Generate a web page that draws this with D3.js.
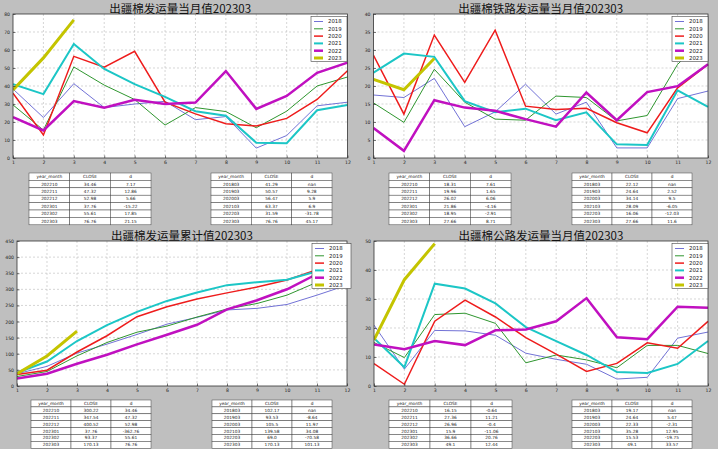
<!DOCTYPE html>
<html><head><meta charset="utf-8">
<script src="https://cdn.jsdelivr.net/npm/d3@7"></script>
<style>
html,body{margin:0;padding:0;background:#bfbfbf;}
svg{display:block;}
</style></head>
<body>
<script>
// ---------- data ----------
const months = [1,2,3,4,5,6,7,8,9,10,11,12];
const years = ["2018","2019","2020","2021","2022","2023"];
const yearColors = ["#7272d6","#2f962f","#ee1c1c","#1cc6c6","#c010c0","#c4c400"];
const yearWidths = [1,1,1.5,2,2.5,3];

// 出疆棉发运量当月值
const monthlyTotal = [
  [38.3,22.5,41.29,28,30,31.5,21.3,23,5.5,12.5,29,31],
  [29.5,15.5,50.57,40.5,32.5,18.3,28,25.8,16.8,26,40,45],
  [36,12.8,56.47,50.5,59.3,31,24.5,19,17.8,22,32.5,48.5],
  [41,35.5,63.37,49.5,41,34,26,23.5,8.5,8.2,26.5,29.5],
  [22.7,15.3,31.59,28,32.3,30,30.8,48.3,27.3,34.46,47.32,52.98],
  [37.76,55.61,76.76]
];
// 出疆棉铁路发运量当月值
const monthlyRail = [
  [17.5,16.8,22.12,8.7,12.8,20.5,12.2,15.5,2.8,2.8,16.5,18.6],
  [15.3,9.9,24.64,15.5,10.8,10.5,17.2,16.8,10.3,11.8,26,34.2],
  [28.5,12.2,34.14,21,35.5,14.4,13.5,13.8,9.8,7,19.5,26],
  [23.7,29,28.09,15.8,12.7,13.7,10.5,12.7,3.8,3.6,18.8,14.2],
  [8.3,2,16.06,14,13.1,10.8,8.7,18.2,10.5,18.31,19.96,26.02],
  [21.86,18.95,27.66]
];
// 出疆棉发运量累计值
const cumulativeTotal = [
  [38,61,102.17,130,160,192,213,236,241,253,282,313],
  [29.5,45,93.53,135,167,186,214,239,256,282,322,367],
  [36,49,105.5,156,215,246,270,289,307,329,361,410],
  [41,76,139.58,189,230,264,290,313,322,330,356,386],
  [23,38,69.0,97,129,159,190,238,266,300.22,347.54,400.52],
  [37.76,93.37,170.13]
];
// 出疆棉公路发运量当月值
const monthlyRoad = [
  [21,5.8,19.17,19,17.5,11.3,9.2,7.5,2.4,3,16.5,18.6],
  [15,9.8,24.64,25.1,21.6,8,10.7,9,6.3,14,14,11.2],
  [7.7,0.6,22.33,29.6,23.8,16.7,11,5,7.8,14.9,13,22.3],
  [16.5,6.5,35.28,33.6,28.5,20.3,15.5,10.7,4.8,4.5,7.6,15.5],
  [14.3,12.7,15.53,14.1,19.2,19.5,22.3,30.3,16.8,16.15,27.36,26.96],
  [15.9,36.66,49.1]
];

const tableHeader = ["year_month","CLOSE","d"];
const recentMonths = ["202210","202211","202212","202301","202302","202303"];
const marchMonths = ["201803","201903","202003","202103","202203","202303"];

const tlRecentClose = ["34.46","47.32","52.98","37.76","55.61","76.76"];
const tlRecentD = ["7.17","12.86","5.66","-15.22","17.85","21.15"];
const tlMarchClose = ["41.29","50.57","56.47","63.37","31.59","76.76"];
const tlMarchD = ["nan","9.28","5.9","6.9","-31.78","45.17"];

const trRecentClose = ["18.31","19.96","26.02","21.86","18.95","27.66"];
const trRecentD = ["7.61","1.65","6.06","-4.16","-2.91","8.71"];
const trMarchClose = ["22.12","24.64","34.14","28.09","16.06","27.66"];
const trMarchD = ["nan","2.52","9.5","-6.05","-12.03","11.6"];

const blRecentClose = ["300.22","347.54","400.52","37.76","93.37","170.13"];
const blRecentD = ["34.46","47.32","52.98","-362.76","55.61","76.76"];
const blMarchClose = ["102.17","93.53","105.5","139.58","69.0","170.13"];
const blMarchD = ["nan","-8.64","11.97","34.08","-70.58","101.13"];

const brRecentClose = ["16.15","27.36","26.96","15.9","36.66","49.1"];
const brRecentD = ["-0.64","11.21","-0.4","-11.06","20.76","12.44"];
const brMarchClose = ["19.17","24.64","22.33","35.28","15.53","49.1"];
const brMarchD = ["nan","5.47","-2.31","12.95","-19.75","33.57"];

// ---------- drawing ----------
const W = 718, H = 449;
const svg = d3.select("body").append("svg").attr("width", W).attr("height", H);
svg.append("rect").attr("width", W).attr("height", H).attr("fill", "#bfbfbf");

function drawPanel(p) {
  const g = svg.append("g");
  const x = d3.scaleLinear().domain([1, 12]).range([p.left, p.right]);
  const y = d3.scaleLinear().domain([0, p.ymax]).range([p.bottom, p.top]);
  const yTicks = d3.range(0, p.ymax + 0.001, p.ystep);

  g.append("rect").attr("x", p.left).attr("y", p.top)
    .attr("width", p.right - p.left).attr("height", p.bottom - p.top)
    .attr("fill", "#fff");

  // grid
  g.append("g").selectAll("line").data(months.slice(1, 11)).join("line")
    .attr("x1", d => x(d)).attr("x2", d => x(d))
    .attr("y1", p.top).attr("y2", p.bottom)
    .attr("stroke", "#c4c4c4").attr("stroke-width", 0.7).attr("stroke-dasharray", "2,2");
  g.append("g").selectAll("line").data(yTicks.slice(1, -1)).join("line")
    .attr("x1", p.left).attr("x2", p.right)
    .attr("y1", d => y(d)).attr("y2", d => y(d))
    .attr("stroke", "#c4c4c4").attr("stroke-width", 0.7).attr("stroke-dasharray", "2,2");

  // lines
  const line = d3.line().x((d, i) => x(months[i])).y(d => y(d));
  const clipId = "clip" + p.id;
  svg.append("clipPath").attr("id", clipId).append("rect")
    .attr("x", p.left).attr("y", p.top - 2).attr("width", p.right - p.left + 3).attr("height", p.bottom - p.top + 2);
  const lg = g.append("g").attr("clip-path", `url(#${clipId})`);
  p.series.forEach((s, i) => {
    lg.append("path").attr("d", line(s)).attr("fill", "none")
      .attr("stroke", yearColors[i]).attr("stroke-width", yearWidths[i])
      .attr("stroke-linejoin", "miter");
  });

  // frame
  g.append("rect").attr("x", p.left).attr("y", p.top)
    .attr("width", p.right - p.left).attr("height", p.bottom - p.top)
    .attr("fill", "none").attr("stroke", "#333").attr("stroke-width", 0.8);

  // axes
  const xa = g.append("g").attr("transform", `translate(0,${p.bottom})`)
    .call(d3.axisBottom(x).tickValues(months).tickFormat(d3.format("d")).tickSize(-2.5).tickPadding(3));
  const ya = g.append("g").attr("transform", `translate(${p.left},0)`)
    .call(d3.axisLeft(y).tickValues(yTicks).tickFormat(d3.format("d")).tickSize(-2.5).tickPadding(3));
  [xa, ya].forEach(a => {
    a.select(".domain").remove();
    a.selectAll(".tick line").attr("stroke", "#222").attr("stroke-width", 0.6);
    a.selectAll("text").attr("font-family", "DejaVu Sans").attr("font-size", 4.6).attr("fill", "#222");
  });

  // title
  g.append("text").attr("x", (p.left + p.right) / 2).attr("y", p.top - 1.5)
    .attr("text-anchor", "middle").attr("font-family", "Noto Sans CJK SC, DejaVu Sans")
    .attr("font-size", 11.5).attr("fill", "#111").text(p.title);

  // legend
  const L = p.legend;
  g.append("rect").attr("x", L.x).attr("y", L.y).attr("width", L.w).attr("height", L.h)
    .attr("fill", "#fff").attr("stroke", "#444").attr("stroke-width", 0.6);
  years.forEach((yr, i) => {
    const cy = L.y + 5 + i * 7.3;
    g.append("line").attr("x1", L.x + 3).attr("x2", L.x + 12).attr("y1", cy).attr("y2", cy)
      .attr("stroke", yearColors[i]).attr("stroke-width", yearWidths[i]);
    g.append("text").attr("x", L.x + 17).attr("y", cy + 1.9)
      .attr("font-family", "DejaVu Sans").attr("font-size", 5.4).attr("fill", "#222").text(yr);
  });

  // tables
  p.tables.forEach(t => drawTable(g, t, p.tableTop, p.rowH));
}

function drawTable(g, t, top, rowH) {
  const colW = (t.x2 - t.x1) / 3;
  const rows = [tableHeader].concat(t.keys.map((k, i) => [k, t.close[i], t.d[i]]));
  rows.forEach((r, ri) => {
    r.forEach((c, ci) => {
      const cx = t.x1 + ci * colW, cy = top + ri * rowH;
      g.append("rect").attr("x", cx).attr("y", cy).attr("width", colW).attr("height", rowH)
        .attr("fill", "#fff").attr("stroke", "#444").attr("stroke-width", 0.5);
      g.append("text").attr("x", cx + colW / 2).attr("y", cy + rowH / 2 + 1.5)
        .attr("text-anchor", "middle").attr("font-family", "DejaVu Sans")
        .attr("font-size", 4.3).attr("fill", "#222").text(c);
    });
  });
}

drawPanel({
  id: "tl", title: "出疆棉发运量当月值202303", series: monthlyTotal,
  left: 13, right: 347.5, top: 14, bottom: 158, ymax: 80, ystep: 10,
  legend: {x: 311, y: 16.5, w: 36, h: 45},
  tableTop: 173, rowH: 7.4,
  tables: [
    {x1: 29, x2: 151, keys: recentMonths, close: tlRecentClose, d: tlRecentD},
    {x1: 211, x2: 332, keys: marchMonths, close: tlMarchClose, d: tlMarchD}
  ]
});
drawPanel({
  id: "tr", title: "出疆棉铁路发运量当月值202303", series: monthlyRail,
  left: 373.5, right: 708, top: 14, bottom: 158, ymax: 40, ystep: 5,
  legend: {x: 672, y: 16.5, w: 36, h: 45},
  tableTop: 173, rowH: 7.4,
  tables: [
    {x1: 389, x2: 511, keys: recentMonths, close: trRecentClose, d: trRecentD},
    {x1: 572, x2: 692, keys: marchMonths, close: trMarchClose, d: trMarchD}
  ]
});
drawPanel({
  id: "bl", title: "出疆棉发运量累计值202303", series: cumulativeTotal,
  left: 17, right: 347, top: 241, bottom: 386, ymax: 450, ystep: 50,
  legend: {x: 312, y: 243.5, w: 39, h: 45},
  tableTop: 400, rowH: 6.9,
  tables: [
    {x1: 31, x2: 151, keys: recentMonths, close: blRecentClose, d: blRecentD},
    {x1: 212, x2: 332, keys: marchMonths, close: blMarchClose, d: blMarchD}
  ]
});
drawPanel({
  id: "br", title: "出疆棉公路发运量当月值202303", series: monthlyRoad,
  left: 374, right: 708, top: 241, bottom: 386, ymax: 50, ystep: 10,
  legend: {x: 672, y: 243.5, w: 36, h: 45},
  tableTop: 400, rowH: 6.9,
  tables: [
    {x1: 389, x2: 512, keys: recentMonths, close: brRecentClose, d: brRecentD},
    {x1: 572, x2: 692, keys: marchMonths, close: brMarchClose, d: brMarchD}
  ]
});
</script>
</body></html>
